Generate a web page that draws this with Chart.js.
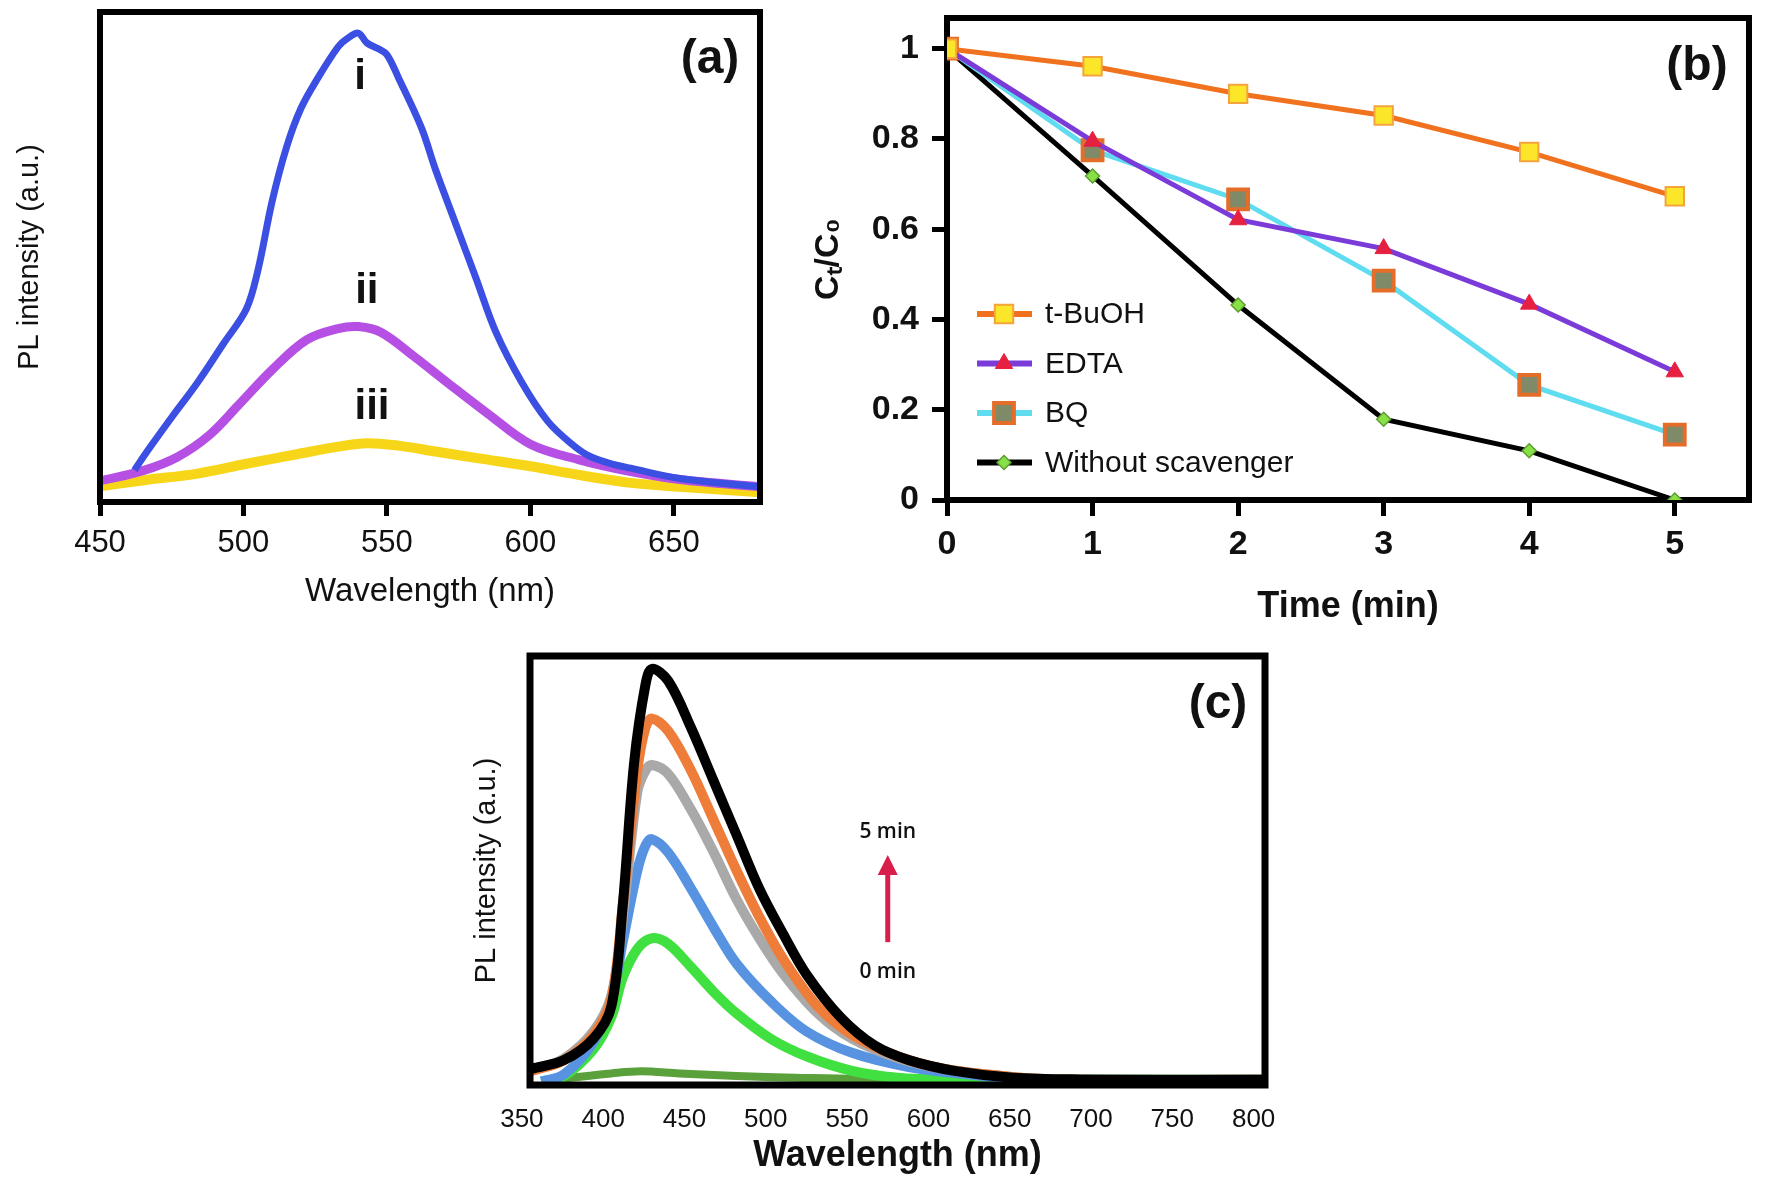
<!DOCTYPE html>
<html>
<head>
<meta charset="utf-8">
<title>PL spectra and scavenger test</title>
<script src="https://cdn.jsdelivr.net/npm/chart.js@4.4.1/dist/chart.umd.min.js"></script>
<style>
  html, body { margin: 0; padding: 0; background: #fff; }
  body { width: 1767px; height: 1181px; position: relative; overflow: hidden; }
  canvas { position: absolute; }
  #chartA { left: 0; top: 0; }
  #chartB { left: 800px; top: 0; }
  #chartC { left: 400px; top: 620px; }
</style>
</head>
<body>
<canvas id="chartA" width="800" height="640"></canvas>
<canvas id="chartB" width="967" height="650"></canvas>
<canvas id="chartC" width="900" height="561"></canvas>
<script>
const FONT = "'Liberation Sans', Arial, sans-serif";
const INK = '#111';

// (a) PL spectra, curves i, ii, iii
const aTicks = [450, 500, 550, 600, 650];
const aNmI = [462, 467, 475, 484, 493, 501, 505, 510, 515, 520, 526, 533, 536, 540, 543, 547, 550, 554, 562, 567, 574, 581, 588, 597, 606, 614, 620, 627, 635, 652, 680];
const aPlI = [6.5, 10.8, 17.3, 24.4, 32.3, 39.4, 47.2, 61.4, 72.4, 80.3, 86.6, 92.9, 94.5, 95.7, 93.7, 92.5, 91.3, 86.6, 76.4, 67.7, 56.7, 45.7, 34.6, 24.4, 16.5, 12, 9.5, 8, 6.9, 4.8, 3.1];
const aNmII = [450, 465, 477, 488, 498, 510, 522, 533, 540, 548, 559, 571, 585, 600, 617, 635, 652, 680];
const aPlII = [4.3, 6.4, 9.2, 13.6, 19.6, 27.0, 33.1, 35.4, 35.8, 34.6, 29.9, 24.4, 18.1, 11.8, 8.6, 6.2, 4.6, 3.1];
const aNmIII = [450, 466, 484, 501, 519, 533, 543, 554, 567, 582, 600, 617, 635, 652, 680];
const aPlIII = [3.2, 4.5, 5.8, 7.8, 9.8, 11.3, 12, 11.5, 10.3, 8.9, 7.3, 5.5, 3.9, 3.1, 2.0];
const aCurveNames = ['i', 'ii', 'iii'];
const aNameNm = [540.6, 543, 544.8];
const aNamePl = [86.7, 42.9, 19.2];

// (b) Ct/C0 vs time with scavengers
const bTime = [0, 1, 2, 3, 4, 5];
const bTBuOH = [1, 0.961, 0.900, 0.852, 0.771, 0.673];
const bEDTA = [1, 0.795, 0.621, 0.557, 0.434, 0.284];
const bBQ = [1, 0.775, 0.666, 0.486, 0.255, 0.145];
const bNone = [1, 0.718, 0.432, 0.179, 0.109, 0];
const bXTicks = [0, 1, 2, 3, 4, 5];
const bYTicks = [0, 0.2, 0.4, 0.6, 0.8, 1];

// (c) PL spectra over irradiation time, 0 min to 5 min
const cTicks = [350, 400, 450, 500, 550, 600, 650, 700, 750, 800];
const cNm5 = [356, 376, 394, 405, 412, 419, 426, 430, 440, 454, 468, 482, 496, 511, 525, 546, 567, 588, 616, 652, 694, 807];
const cPl5 = [3.8, 5.8, 10.8, 18.3, 41.7, 75, 93.3, 97, 94.2, 83.3, 70.8, 58.3, 45.8, 35, 25.8, 15.8, 9.2, 5.8, 3.3, 1.7, 1.3, 1.2];
const cNm4 = [356, 376, 394, 405, 412, 421, 426, 430, 440, 454, 468, 482, 496, 511, 532, 553, 581, 609, 645, 677, 807];
const cPl4 = [3.3, 5.8, 11.7, 20, 41.7, 73.3, 83.3, 85.4, 82.5, 73.3, 61.7, 50, 39.2, 29.2, 18.3, 11.7, 6.7, 3.8, 2.1, 1.3, 1.2];
const cNm3 = [356, 376, 394, 405, 412, 421, 426, 430, 440, 454, 468, 482, 496, 511, 532, 553, 581, 609, 645, 677, 807];
const cPl3 = [3.3, 6.2, 12.5, 20.8, 39, 68.3, 73.3, 74.6, 72.5, 64.2, 54.2, 43.3, 34.2, 25.8, 16.7, 10.8, 6.3, 3.8, 2.1, 1.3, 1.2];
const cNm2 = [362, 376, 394, 405, 412, 421, 426, 430, 440, 454, 468, 482, 504, 525, 553, 588, 624, 659, 807];
const cPl2 = [0.8, 2.5, 10, 20, 33.3, 50, 55.8, 57.3, 54.2, 45.8, 36.7, 28.3, 19.2, 12.5, 7.5, 4.2, 2.5, 1.3, 1.2];
const cNm1 = [362, 376, 394, 405, 412, 421, 430, 440, 454, 468, 482, 503, 525, 553, 581, 610, 807];
const cPl1 = [0.8, 2.1, 8.3, 15.8, 25, 31.7, 34.2, 32.9, 27.5, 21.7, 16.7, 10.8, 6.7, 3.3, 1.7, 1.3, 1.2];
const cNm0 = [376, 405, 423, 447, 482, 518, 581, 807];
const cPl0 = [1.5, 2.7, 3.2, 2.7, 2.1, 1.7, 1.3, 1.2];
const cArrowNm = 575;
const cArrowFrom = 33.3;
const cArrowTo = 53.6;
const cNotes = ['5 min', '0 min'];
const cNotePl = [59, 26.3];

function points(xs, ys) {
  return xs.map((x, i) => ({ x: x, y: ys[i] }));
}

function spectrum(xs, ys, color, width) {
  return {
    data: points(xs, ys),
    borderColor: color,
    borderWidth: width,
    pointRadius: 0,
    tension: 0.35,
    fill: false
  };
}

// fixed axis box so the plot frames land where the figure has them
function fixBox(size) {
  return s => {
    if (s.isHorizontal()) s.height = size; else s.width = size;
    s.paddingLeft = s.paddingRight = s.paddingTop = s.paddingBottom = 0;
  };
}

function useTicks(values) {
  return s => { s.ticks = values.map(v => ({ value: v })); };
}

const frame = {
  id: 'frame',
  beforeDatasetsDraw(chart, args, opts) {
    if (opts.under) drawFrame(chart, opts);
  },
  afterDatasetsDraw(chart, args, opts) {
    if (!opts.under) drawFrame(chart, opts);
  }
};

function drawFrame(chart, opts) {
  const { ctx, chartArea: a } = chart;
  ctx.save();
  ctx.strokeStyle = '#000';
  ctx.lineWidth = opts.width;
  ctx.strokeRect(a.left, a.top, a.right - a.left, a.bottom - a.top);
  ctx.restore();
}

const panelTag = {
  id: 'panelTag',
  afterDraw(chart, args, opts) {
    const { ctx, chartArea: a } = chart;
    ctx.save();
    ctx.font = 'bold 48px ' + FONT;
    ctx.fillStyle = INK;
    ctx.textAlign = 'center';
    ctx.textBaseline = 'middle';
    ctx.fillText(opts.text, a.right - opts.dx, a.top + opts.dy);
    ctx.restore();
  }
};

const curveNames = {
  id: 'curveNames',
  afterDatasetsDraw(chart) {
    const { ctx, scales: { x, y } } = chart;
    ctx.save();
    ctx.font = 'bold 42px ' + FONT;
    ctx.fillStyle = INK;
    ctx.textAlign = 'center';
    ctx.textBaseline = 'middle';
    aCurveNames.forEach((t, i) => {
      ctx.fillText(t, x.getPixelForValue(aNameNm[i]), y.getPixelForValue(aNamePl[i]));
    });
    ctx.restore();
  }
};

function drawMarker(ctx, ds, cx, cy) {
  const r = ds.pointRadius;
  ctx.save();
  ctx.fillStyle = ds.pointBackgroundColor;
  ctx.strokeStyle = ds.pointBorderColor;
  ctx.lineWidth = ds.pointBorderWidth;
  ctx.beginPath();
  if (ds.pointStyle === 'rect') {
    const h = r * Math.SQRT1_2;
    ctx.rect(cx - h, cy - h, 2 * h, 2 * h);
  } else if (ds.pointStyle === 'triangle') {
    ctx.moveTo(cx, cy - r);
    ctx.lineTo(cx + r * 0.866, cy + r * 0.5);
    ctx.lineTo(cx - r * 0.866, cy + r * 0.5);
    ctx.closePath();
  } else {
    ctx.moveTo(cx, cy - r);
    ctx.lineTo(cx + r, cy);
    ctx.lineTo(cx, cy + r);
    ctx.lineTo(cx - r, cy);
    ctx.closePath();
  }
  ctx.fill();
  if (ds.pointBorderWidth) ctx.stroke();
  ctx.restore();
}

const innerLegend = {
  id: 'innerLegend',
  afterDraw(chart, args, opts) {
    const { ctx, chartArea: a } = chart;
    ctx.save();
    ctx.font = '30px ' + FONT;
    ctx.textBaseline = 'middle';
    ctx.textAlign = 'left';
    chart.data.datasets.forEach((ds, i) => {
      const y = a.top + opts.top + i * opts.step;
      const x0 = a.left + opts.left;
      ctx.strokeStyle = ds.borderColor;
      ctx.lineWidth = ds.borderWidth + 1;
      ctx.beginPath();
      ctx.moveTo(x0, y);
      ctx.lineTo(x0 + 55, y);
      ctx.stroke();
      drawMarker(ctx, ds, x0 + 27, y);
      ctx.fillStyle = INK;
      ctx.fillText(ds.label, x0 + 68, y + 1);
    });
    ctx.restore();
  }
};

const timeArrow = {
  id: 'timeArrow',
  afterDatasetsDraw(chart) {
    const { ctx, scales: { x, y } } = chart;
    const px = x.getPixelForValue(cArrowNm);
    const yTail = y.getPixelForValue(cArrowFrom);
    const yTip = y.getPixelForValue(cArrowTo);
    ctx.save();
    ctx.strokeStyle = '#d81f4b';
    ctx.fillStyle = '#d81f4b';
    ctx.lineWidth = 5;
    ctx.beginPath();
    ctx.moveTo(px, yTail);
    ctx.lineTo(px, yTip + 16);
    ctx.stroke();
    ctx.beginPath();
    ctx.moveTo(px, yTip);
    ctx.lineTo(px + 10, yTip + 20);
    ctx.lineTo(px - 10, yTip + 20);
    ctx.closePath();
    ctx.fill();
    ctx.font = '600 21px "Open Sans", ' + FONT;
    ctx.fillStyle = INK;
    ctx.textAlign = 'center';
    ctx.textBaseline = 'middle';
    cNotes.forEach((t, i) => ctx.fillText(t, px, y.getPixelForValue(cNotePl[i])));
    ctx.restore();
  }
};

const base = {
  responsive: false,
  animation: false,
  events: []
};

// ---------- (a) ----------
new Chart(document.getElementById('chartA'), {
  type: 'line',
  data: {
    datasets: [
      spectrum(aNmI, aPlI, '#3b4fe2', 7),
      spectrum(aNmII, aPlII, '#b64fe3', 9),
      spectrum(aNmIII, aPlIII, '#f7d61a', 10)
    ]
  },
  options: Object.assign({}, base, {
    layout: { padding: { left: 0, right: 40, top: 12, bottom: 0 } },
    plugins: {
      legend: { display: false },
      tooltip: { enabled: false },
      frame: { width: 6, under: false },
      panelTag: { text: '(a)', dx: 50, dy: 48 }
    },
    scales: {
      x: {
        type: 'linear', min: 450, max: 680,
        afterBuildTicks: useTicks(aTicks),
        afterFit: fixBox(138),
        grid: { display: true, drawOnChartArea: false, drawTicks: true, tickLength: 14, tickWidth: 5, tickColor: '#000' },
        border: { display: false },
        ticks: { color: INK, font: { family: FONT, size: 31 }, padding: 9, autoSkip: false, maxRotation: 0, callback: v => String(v) },
        title: { display: true, text: 'Wavelength (nm)', color: INK, font: { family: FONT, size: 33 }, padding: { top: 0, bottom: 28 } }
      },
      y: {
        type: 'linear', min: 0, max: 100,
        afterFit: fixBox(100),
        grid: { display: false },
        border: { display: false },
        ticks: { display: false },
        title: { display: true, text: 'PL intensity (a.u.)', color: INK, font: { family: FONT, size: 29 }, padding: { top: 13, bottom: 0 } }
      }
    }
  }),
  plugins: [frame, panelTag, curveNames]
});

// ---------- (b) ----------
new Chart(document.getElementById('chartB'), {
  type: 'line',
  data: {
    datasets: [
      {
        label: 't-BuOH', data: points(bTime, bTBuOH),
        borderColor: '#f0721f', borderWidth: 5, tension: 0,
        pointStyle: 'rect', pointRadius: 13, pointBackgroundColor: '#fbe62a', pointBorderColor: '#f3a43c', pointBorderWidth: 2
      },
      {
        label: 'EDTA', data: points(bTime, bEDTA),
        borderColor: '#7b3bd9', borderWidth: 5, tension: 0,
        pointStyle: 'triangle', pointRadius: 10, pointBackgroundColor: '#e52040', pointBorderColor: '#e52040', pointBorderWidth: 1
      },
      {
        label: 'BQ', data: points(bTime, bBQ),
        borderColor: '#5fdcef', borderWidth: 5, tension: 0,
        pointStyle: 'rect', pointRadius: 14, pointBackgroundColor: '#7f8a68', pointBorderColor: '#e46d2a', pointBorderWidth: 4
      },
      {
        label: 'Without scavenger', data: points(bTime, bNone),
        borderColor: '#000', borderWidth: 5, tension: 0,
        pointStyle: 'rectRot', pointRadius: 7, pointBackgroundColor: '#86e046', pointBorderColor: '#5f9c33', pointBorderWidth: 1.5
      }
    ]
  },
  options: Object.assign({}, base, {
    layout: { padding: { left: 0, right: 8, top: 12, bottom: 0 } },
    plugins: {
      legend: { display: false },
      tooltip: { enabled: false },
      frame: { width: 6, under: true },
      panelTag: { text: '(b)', dx: 52, dy: 49 },
      innerLegend: { left: 30, top: 296, step: 49.5 }
    },
    scales: {
      x: {
        type: 'linear', min: 0, max: 5.51,
        afterBuildTicks: useTicks(bXTicks),
        afterFit: fixBox(150),
        grid: { display: true, drawOnChartArea: false, drawTicks: true, tickLength: 16, tickWidth: 5, tickColor: '#000' },
        border: { display: false },
        ticks: { color: INK, font: { family: FONT, size: 34, weight: 'bold' }, padding: 8, autoSkip: false, maxRotation: 0, callback: v => String(v) },
        title: { display: true, text: 'Time (min)', color: INK, font: { family: FONT, size: 36, weight: 'bold' }, padding: { top: 0, bottom: 21 } }
      },
      y: {
        type: 'linear', min: 0, max: 1.068,
        afterBuildTicks: useTicks(bYTicks),
        afterFit: fixBox(147),
        grid: { display: true, drawOnChartArea: false, drawTicks: true, tickLength: 15, tickWidth: 5, tickColor: '#000' },
        border: { display: false },
        ticks: { color: INK, font: { family: FONT, size: 34, weight: 'bold' }, padding: 13, autoSkip: false, callback: v => String(v) },
        title: { display: true, text: 'Cₜ/C₀', color: INK, font: { family: FONT, size: 34, weight: 'bold' }, padding: { top: 8, bottom: 0 } }
      }
    }
  }),
  plugins: [frame, panelTag, innerLegend]
});

// ---------- (c) ----------
new Chart(document.getElementById('chartC'), {
  type: 'line',
  data: {
    datasets: [
      spectrum(cNm5, cPl5, '#000000', 10),
      spectrum(cNm4, cPl4, '#ee7d3a', 10),
      spectrum(cNm3, cPl3, '#a9a9a9', 10),
      spectrum(cNm2, cPl2, '#5893e2', 10),
      spectrum(cNm1, cPl1, '#3fe03f', 10),
      spectrum(cNm0, cPl0, '#5aa13c', 8)
    ]
  },
  options: Object.assign({}, base, {
    layout: { padding: { left: 0, right: 35, top: 36, bottom: 0 } },
    plugins: {
      legend: { display: false },
      tooltip: { enabled: false },
      frame: { width: 7, under: false },
      panelTag: { text: '(c)', dx: 47, dy: 49 }
    },
    scales: {
      x: {
        type: 'linear', min: 355, max: 807,
        afterBuildTicks: useTicks(cTicks),
        afterFit: fixBox(96),
        grid: { display: false },
        border: { display: false },
        ticks: { color: INK, font: { family: FONT, size: 26 }, padding: 11, autoSkip: false, maxRotation: 0, callback: v => String(v) },
        title: { display: true, text: 'Wavelength (nm)', color: INK, font: { family: FONT, size: 36, weight: 'bold' }, padding: { top: 0, bottom: 3 } }
      },
      y: {
        type: 'linear', min: 0, max: 100,
        afterFit: fixBox(130),
        grid: { display: false },
        border: { display: false },
        ticks: { display: false },
        title: { display: true, text: 'PL intensity (a.u.)', color: INK, font: { family: FONT, size: 29 }, padding: { top: 70, bottom: 0 } }
      }
    }
  }),
  plugins: [frame, panelTag, timeArrow]
});
</script>
</body>
</html>
